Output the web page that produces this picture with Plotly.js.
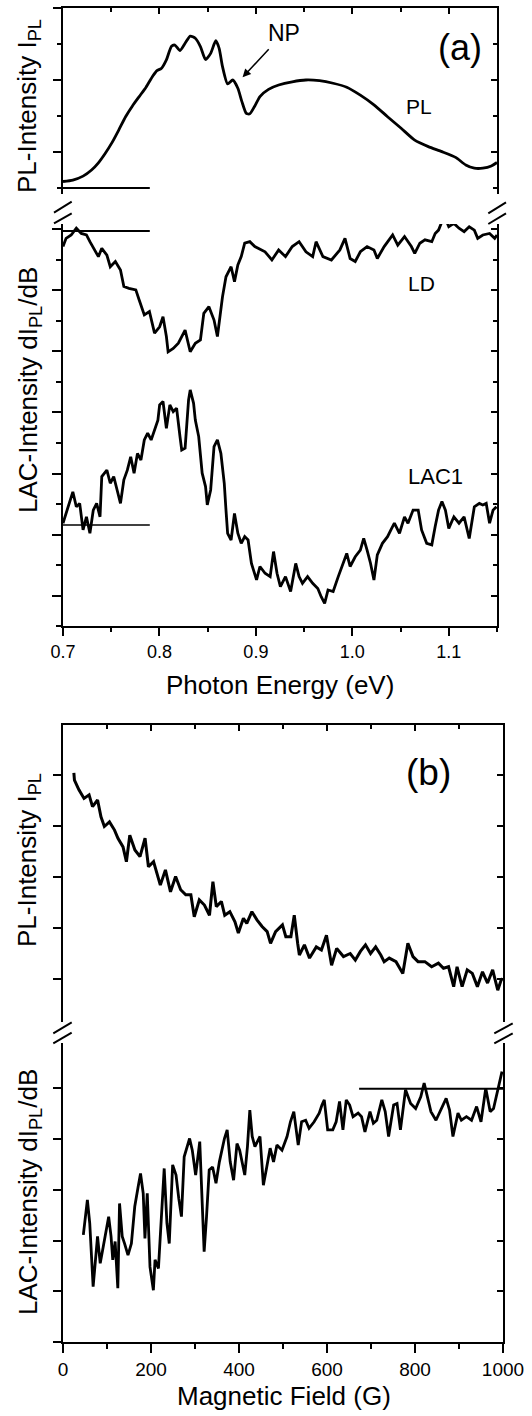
<!DOCTYPE html>
<html>
<head>
<meta charset="utf-8">
<script src="https://cdn.plot.ly/plotly-3.0.1.min.js"></script>
<style>html,body{margin:0;padding:0;background:#fff;}#chart{width:532px;height:1416px;}</style>
</head>
<body>
<div id="chart"></div>
<script>
// ---------------- DATA (arbitrary intensity units) ----------------
// Panel (a): PL spectrum
const plA_energy = [0.7000,0.7102,0.7208,0.7296,0.7367,0.7437,0.7508,0.7578,0.7649,0.7720,0.7790,0.7861,0.7931,0.7974,0.8019,0.8072,0.8125,0.8160,0.8213,0.8266,0.8319,0.8372,0.8425,0.8478,0.8531,0.8584,0.8619,0.8654,0.8707,0.8760,0.8813,0.8855,0.8901,0.8937,0.8989,0.9042,0.9131,0.9236,0.9377,0.9519,0.9660,0.9801,0.9942,1.0083,1.0224,1.0365,1.0506,1.0647,1.0788,1.0929,1.1071,1.1176,1.1265,1.1353,1.1441,1.1500];
const plA_int = [0.18,0.22,0.33,0.50,0.70,0.96,1.26,1.61,1.98,2.28,2.54,2.80,3.11,3.26,3.32,3.56,3.94,3.97,3.82,4.02,4.22,4.16,3.93,3.57,3.74,4.09,3.88,3.37,2.89,3.00,2.77,2.40,2.07,2.06,2.28,2.54,2.74,2.86,2.95,3.00,2.98,2.91,2.80,2.58,2.31,1.98,1.66,1.33,1.15,1.01,0.85,0.64,0.55,0.55,0.61,0.71];

// Panel (a): LD signal
const ld_energy = [0.7000,0.7032,0.7085,0.7138,0.7190,0.7243,0.7279,0.7332,0.7367,0.7402,0.7455,0.7490,0.7543,0.7596,0.7631,0.7684,0.7755,0.7790,0.7843,0.7896,0.7949,0.8002,0.8037,0.8072,0.8090,0.8143,0.8196,0.8266,0.8319,0.8372,0.8425,0.8460,0.8513,0.8566,0.8601,0.8654,0.8690,0.8743,0.8778,0.8813,0.8848,0.8884,0.8937,0.8989,0.9095,0.9166,0.9236,0.9307,0.9377,0.9448,0.9519,0.9589,0.9624,0.9695,0.9783,0.9871,0.9924,0.9977,1.0030,1.0083,1.0153,1.0224,1.0259,1.0330,1.0418,1.0471,1.0541,1.0612,1.0647,1.0700,1.0753,1.0824,1.0859,1.0894,1.0929,1.0965,1.1000,1.1053,1.1106,1.1159,1.1212,1.1265,1.1300,1.1353,1.1423,1.1476,1.1500];
const ld_int = [12.44,12.71,12.82,13.04,12.87,12.82,12.60,12.33,12.11,12.38,12.16,11.78,11.95,11.67,11.13,11.07,11.02,10.69,10.20,10.31,9.60,9.81,10.14,9.49,8.99,9.10,9.27,9.70,8.99,9.27,9.38,10.25,10.47,10.03,9.49,10.80,11.45,11.78,11.29,11.84,12.11,12.55,12.60,12.44,12.27,12.00,12.33,12.11,12.44,12.60,12.27,12.11,12.60,12.11,12.00,12.33,12.71,12.05,11.95,12.27,12.44,12.33,12.05,12.44,12.82,12.49,12.77,12.44,12.22,12.55,12.66,12.60,12.87,12.98,13.26,13.37,13.09,13.20,13.04,12.93,13.09,12.98,12.71,12.82,12.87,12.71,12.82];

// Panel (a): LAC1 signal
const lac1_energy = [0.7000,0.7032,0.7067,0.7102,0.7138,0.7173,0.7208,0.7243,0.7279,0.7314,0.7349,0.7384,0.7402,0.7455,0.7490,0.7526,0.7561,0.7596,0.7631,0.7667,0.7702,0.7737,0.7772,0.7808,0.7843,0.7878,0.7914,0.7949,0.7984,0.8002,0.8037,0.8072,0.8108,0.8143,0.8178,0.8213,0.8231,0.8266,0.8302,0.8319,0.8354,0.8372,0.8407,0.8443,0.8478,0.8496,0.8531,0.8566,0.8601,0.8637,0.8672,0.8690,0.8707,0.8743,0.8778,0.8813,0.8848,0.8884,0.8919,0.8954,0.9007,0.9042,0.9095,0.9148,0.9183,0.9219,0.9254,0.9307,0.9360,0.9413,0.9448,0.9483,0.9536,0.9589,0.9642,0.9677,0.9713,0.9748,0.9801,0.9854,0.9907,0.9942,0.9977,1.0030,1.0083,1.0118,1.0153,1.0189,1.0224,1.0259,1.0312,1.0365,1.0400,1.0436,1.0489,1.0541,1.0577,1.0630,1.0683,1.0718,1.0771,1.0824,1.0859,1.0894,1.0929,1.0965,1.1000,1.1053,1.1106,1.1159,1.1212,1.1265,1.1317,1.1353,1.1388,1.1423,1.1459,1.1494];
const lac1_int = [3.37,3.69,4.02,4.40,3.91,4.02,3.15,3.58,3.04,3.80,4.02,3.58,4.90,5.11,4.68,4.90,4.46,4.02,4.79,5.11,5.55,5.01,5.66,5.44,6.10,6.32,6.10,6.43,6.75,7.25,7.36,6.48,7.25,7.03,7.14,6.21,5.77,5.83,7.41,7.74,7.30,6.75,6.21,5.01,4.57,3.97,4.46,5.88,6.10,5.66,4.68,3.80,3.04,2.82,3.69,3.04,2.71,2.93,2.82,2.05,1.51,1.95,1.73,1.62,2.44,1.73,1.29,1.62,1.13,2.05,1.62,1.40,1.62,1.40,1.23,0.96,0.74,1.18,1.13,1.62,2.05,2.38,1.95,2.27,2.49,2.87,2.49,2.05,1.51,2.33,2.71,2.93,3.15,3.37,3.04,3.58,3.37,3.80,3.80,3.15,2.71,2.66,3.26,3.80,4.08,3.80,3.20,3.58,3.37,3.58,2.87,3.91,4.02,3.97,4.02,3.37,3.80,3.91];

// Panel (a): zero reference lines
const refA_energy = [0.70, 0.79];
const refA_pl = [0, 0];
const refA_ld = [12.95, 12.95];
const refA_lac1 = [3.31, 3.31];

// Panel (b): PL vs magnetic field
const plB_field = [24.7,26.0,36.2,47.8,59.3,67.1,78.6,86.3,94.0,105.6,117.1,124.9,136.4,144.1,151.8,163.4,175.0,186.5,194.2,205.8,221.2,232.8,244.3,255.9,267.4,279.0,290.6,298.3,309.8,321.4,332.9,340.7,348.4,359.9,367.6,379.2,390.8,398.5,410.0,417.7,429.3,440.8,452.4,464.0,471.7,483.2,498.7,506.4,517.9,525.6,533.3,537.2,548.7,560.3,575.7,587.3,598.8,610.4,622.0,637.4,652.8,664.4,675.9,687.5,699.0,710.6,722.2,729.9,741.4,756.8,772.3,783.8,795.4,806.9,822.4,837.8,853.2,864.7,876.3,887.9,895.6,907.1,918.7,930.3,941.8,953.4,964.9,976.5,988.1,995.8,999.6];
const plB_int = [4.04,3.90,3.71,3.54,3.61,3.38,3.51,3.18,2.99,3.08,2.92,2.76,2.59,2.30,2.82,2.53,2.40,2.76,2.20,2.30,1.84,2.14,1.71,2.01,1.75,1.65,1.65,1.22,1.55,1.45,1.25,1.91,1.42,1.52,1.25,1.32,1.12,0.90,1.19,1.09,1.32,1.16,1.03,0.93,0.70,0.93,1.06,0.83,0.83,1.25,0.70,0.47,0.67,0.41,0.63,0.57,0.86,0.27,0.60,0.44,0.50,0.37,0.54,0.67,0.50,0.63,0.47,0.34,0.41,0.34,0.11,0.70,0.44,0.34,0.34,0.24,0.31,0.21,0.24,-0.15,0.24,-0.15,0.18,0.11,-0.15,0.14,-0.08,0.18,-0.22,-0.02,0.01];

// Panel (b): LAC vs magnetic field
const lacB_field = [46.2,55.4,60.8,68.5,78.5,84.6,90.0,97.7,103.8,109.2,113.1,118.5,124.6,128.5,134.6,140.0,147.7,155.4,163.1,170.8,176.2,182.3,186.2,191.5,197.7,205.4,209.2,216.9,224.6,230.0,236.2,241.5,249.2,256.9,263.1,269.2,275.4,282.3,287.7,293.8,301.5,310.8,315.4,320.8,326.2,332.3,340.0,347.7,355.4,366.9,373.1,380.0,387.7,395.4,401.5,413.1,419.2,424.6,430.0,436.2,447.7,455.4,463.1,470.8,478.5,486.2,497.7,509.2,516.9,524.6,534.6,542.3,551.5,559.2,570.8,582.3,588.5,593.8,601.5,613.1,620.8,628.5,636.2,643.8,651.5,659.2,670.8,678.5,686.2,697.7,705.4,713.1,724.6,732.3,740.0,751.5,759.2,766.9,778.5,790.0,801.5,813.1,820.8,828.5,836.2,847.7,859.2,870.8,878.5,886.2,897.7,905.4,916.9,928.5,940.0,950.0,960.8,970.8,978.5,990.0,997.7];
const lacB_int = [2.11,2.80,2.34,1.09,2.08,1.55,1.81,2.17,2.47,2.08,1.62,1.98,1.06,2.73,2.08,1.94,1.71,1.94,2.67,3.06,3.32,2.93,2.04,2.93,1.48,1.02,1.62,1.45,2.77,3.42,2.34,1.94,3.49,3.29,2.83,2.47,3.65,3.85,4.01,3.78,3.29,3.95,2.93,1.78,2.47,3.39,3.45,3.13,3.55,4.01,4.18,3.55,3.19,3.91,3.78,3.29,3.85,4.57,4.05,3.85,4.05,3.09,3.45,3.82,3.55,3.88,3.78,4.05,4.34,4.54,3.88,4.34,4.37,4.21,4.34,4.51,4.67,4.77,4.18,4.18,4.34,4.74,4.18,4.77,4.67,4.44,4.51,4.44,4.14,4.54,4.31,4.37,4.77,4.54,4.05,4.67,4.70,4.18,4.97,4.70,4.60,4.83,5.10,4.80,4.54,4.37,4.60,4.80,4.57,4.05,4.51,4.37,4.44,4.37,4.64,4.34,5.00,4.54,4.60,5.03,5.33];

const refB_field = [673, 1000];
const refB_lac = [4.99, 4.99];

// Tick settings (labels)
const xTicksA = {tick0: 0.7, dtick: 0.1, minor: 0.05, range: [0.7, 1.15]};
const xTicksB = {tick0: 0, dtick: 200, minor: 100, range: [0, 1000]};

// NP arrow target (eV, PL units)
const npArrow = {energy: 0.8862, pl: 3.075};

// ---------------- LAYOUT ----------------
const FONT = '"Liberation Sans", Arial, Helvetica, sans-serif';
const W = 532, H = 1416, ML = 63, MR = 29, MT = 8, MB = 74;
const PW = W - ML - MR, PH = H - MT - MB;
const pxX = v => (v - ML) / PW;
const pxY = v => (H - MB - v) / PH;

function ax(extra) {
  return Object.assign({
    showgrid: false, zeroline: false, showline: true, linecolor: '#000', linewidth: 2,
    tickcolor: '#000', tickwidth: 2, ticks: 'outside', fixedrange: true, showticklabels: false
  }, extra);
}
function minor(d, len, side) { return {dtick: d, ticklen: len, ticks: side, tickwidth: 2, tickcolor: '#000'}; }

const blk = '#000';
const line = (w, shape) => ({color: blk, width: w, shape: shape || 'linear'});
const traces = [
  {x: plA_energy, y: plA_int, xaxis: 'x', yaxis: 'y', mode: 'lines', line: Object.assign(line(2.8, 'spline'), {smoothing: 0.6})},
  {x: ld_energy, y: ld_int, xaxis: 'x', yaxis: 'y2', mode: 'lines', line: line(2.8)},
  {x: lac1_energy, y: lac1_int, xaxis: 'x', yaxis: 'y2', mode: 'lines', line: line(2.8)},
  {x: refA_energy, y: refA_pl, xaxis: 'x', yaxis: 'y', mode: 'lines', line: line(1.8)},
  {x: refA_energy, y: refA_ld, xaxis: 'x', yaxis: 'y2', mode: 'lines', line: line(1.8)},
  {x: refA_energy, y: refA_lac1, xaxis: 'x', yaxis: 'y2', mode: 'lines', line: line(1.5)},
  {x: plB_field, y: plB_int, xaxis: 'x3', yaxis: 'y3', mode: 'lines', line: line(3)},
  {x: lacB_field, y: lacB_int, xaxis: 'x3', yaxis: 'y4', mode: 'lines', line: line(2.8)},
  {x: refB_field, y: refB_lac, xaxis: 'x3', yaxis: 'y4', mode: 'lines', line: line(1.8)},
  // empty traces to register the mirrored frame axes
  {x: [], y: [], xaxis: 'x2', yaxis: 'y', mode: 'lines'},
  {x: [], y: [], xaxis: 'x', yaxis: 'y5', mode: 'lines'},
  {x: [], y: [], xaxis: 'x', yaxis: 'y6', mode: 'lines'},
  {x: [], y: [], xaxis: 'x4', yaxis: 'y3', mode: 'lines'},
  {x: [], y: [], xaxis: 'x3', yaxis: 'y7', mode: 'lines'},
  {x: [], y: [], xaxis: 'x3', yaxis: 'y8', mode: 'lines'}
].map(t => Object.assign({showlegend: false, hoverinfo: 'skip'}, t));

const domXA = [0, pxX(497)], domXB = [0, pxX(503)];
const domY1 = [pxY(194), 1], domY2 = [pxY(626), pxY(224)];
const domY3 = [pxY(1022), pxY(725)], domY4 = [0, pxY(1043)];

const layout = {
  width: W, height: H, margin: {l: ML, r: MR, t: MT, b: MB},
  paper_bgcolor: '#fff', plot_bgcolor: 'rgba(0,0,0,0)',
  font: {family: FONT, color: '#000'},
  showlegend: false,
  xaxis: ax({domain: domXA, anchor: 'y2', range: xTicksA.range, tick0: xTicksA.tick0, dtick: xTicksA.dtick,
             tickformat: '.1f', ticklen: 8, minor: minor(xTicksA.minor, 4, 'outside'),
             showticklabels: true, tickfont: {size: 18, family: FONT}}),
  xaxis2: ax({overlaying: 'x', side: 'top', anchor: 'y', range: xTicksA.range, tick0: xTicksA.tick0, dtick: xTicksA.dtick,
              ticks: 'inside', ticklen: 6, minor: minor(xTicksA.minor, 4, 'inside')}),
  yaxis: ax({domain: domY1, anchor: 'x', range: [-0.1667, 5.0], tick0: 1, dtick: 2, ticklen: 8, minor: minor(1, 4, 'outside')}),
  yaxis2: ax({domain: domY2, anchor: 'x', range: [0, 13.18], tick0: 1, dtick: 2, ticklen: 9, minor: minor(1, 5, 'outside')}),
  yaxis5: ax({overlaying: 'y', side: 'right', anchor: 'x', range: [-0.1667, 5.0], tick0: 1, dtick: 2, ticks: 'inside', ticklen: 6, minor: minor(1, 4, 'inside')}),
  yaxis6: ax({overlaying: 'y2', side: 'right', anchor: 'x', range: [0, 13.18], tick0: 1, dtick: 2, ticks: 'inside', ticklen: 6, minor: minor(1, 4, 'inside')}),
  xaxis3: ax({domain: domXB, anchor: 'y4', range: xTicksB.range, tick0: xTicksB.tick0, dtick: xTicksB.dtick,
              ticklen: 9, minor: minor(xTicksB.minor, 5, 'outside'), showticklabels: true, tickfont: {size: 19, family: FONT}}),
  xaxis4: ax({overlaying: 'x3', side: 'top', anchor: 'y3', range: xTicksB.range, tick0: xTicksB.tick0, dtick: xTicksB.dtick,
              ticks: 'inside', ticklen: 6, minor: minor(xTicksB.minor, 4, 'inside')}),
  yaxis3: ax({domain: domY3, anchor: 'x3', range: [-0.843, 4.98], tick0: 0, dtick: 1, ticklen: 8}),
  yaxis4: ax({domain: domY4, anchor: 'x3', range: [0, 5.892], tick0: 0, dtick: 1, ticklen: 8}),
  yaxis7: ax({overlaying: 'y3', side: 'right', anchor: 'x3', range: [-0.843, 4.98], tick0: 0, dtick: 1, ticks: 'inside', ticklen: 6}),
  yaxis8: ax({overlaying: 'y4', side: 'right', anchor: 'x3', range: [0, 5.892], tick0: 0, dtick: 1, ticks: 'inside', ticklen: 6})
};

// axis-break slashes (decoration, paper coordinates from pixel positions)
const breaks = [
  [54, 212.7, 71.7, 201.7], [54, 223.3, 71.7, 213.3],
  [488.3, 213.3, 506, 202.3], [488.3, 224, 506, 213.3],
  [53.3, 1033.3, 71.7, 1022.3], [53.3, 1043.3, 71.7, 1032.7],
  [494.3, 1033.3, 512.7, 1023.3], [494.3, 1043.3, 512.7, 1033.3]
];
layout.shapes = breaks.map(b => ({type: 'line', xref: 'paper', yref: 'paper',
  x0: pxX(b[0]), y0: pxY(b[1]), x1: pxX(b[2]), y1: pxY(b[3]), line: {color: '#000', width: 2}}));

function txt(text, x, y, size, extra) {
  return Object.assign({text: text, xref: 'paper', yref: 'paper', x: pxX(x), y: pxY(y),
    xanchor: 'center', yanchor: 'middle', showarrow: false, font: {family: FONT, size: size, color: '#000'}}, extra || {});
}
layout.annotations = [
  txt('PL-Intensity I<sub>PL</sub>', 29, 106, 26, {textangle: -90}),
  txt('LAC-Intensity dI<sub>PL</sub>/dB', 29, 390, 26, {textangle: -90}),
  txt('PL-Intensity I<sub>PL</sub>', 29, 860, 26, {textangle: -90}),
  txt('LAC-Intensity dI<sub>PL</sub>/dB', 29, 1192, 26, {textangle: -90}),
  txt('Photon Energy (eV)', 280, 685, 26),
  txt('Magnetic Field (G)', 284, 1396, 26),
  txt('(a)', 460, 47, 36),
  txt('(b)', 428, 772, 37),
  txt('PL', 419, 107, 21),
  txt('LD', 421, 284, 21),
  txt('LAC1', 435, 477, 22),
  // "NP" label with its arrow pointing to the no-phonon feature
  {text: 'NP', xref: 'x', yref: 'y', x: npArrow.energy, y: npArrow.pl, ax: 41, ay: -44, showarrow: true,
   arrowhead: 2, arrowsize: 1.1, arrowwidth: 1.5, arrowcolor: '#000', standoff: 0, startstandoff: 2,
   font: {family: FONT, size: 23, color: '#000'}}
];

Plotly.newPlot('chart', traces, layout, {staticPlot: true, displayModeBar: false});
</script>
</body>
</html>
